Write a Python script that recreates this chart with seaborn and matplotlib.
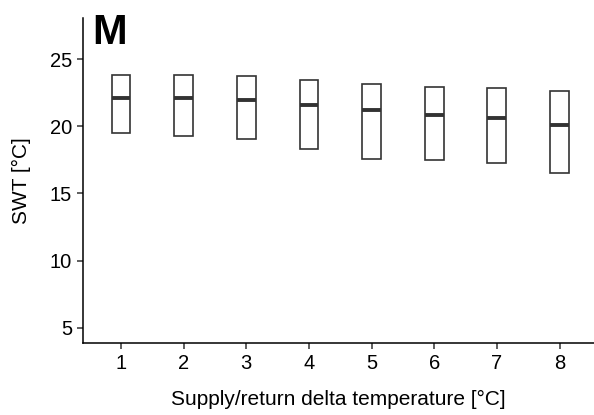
import pandas as pd
import numpy as np
import matplotlib
matplotlib.use('Agg')
import matplotlib.pyplot as plt
import seaborn as sns

# box summaries (lower edge, median, upper edge)
delta = ['1', '2', '3', '4', '5', '6', '7', '8']
lower = [19.48, 19.26, 19.03, 18.34, 17.55, 17.48, 17.30, 16.51]
median = [22.08, 22.12, 21.95, 21.60, 21.19, 20.86, 20.59, 20.07]
upper = [23.81, 23.81, 23.70, 23.42, 23.17, 22.94, 22.87, 22.65]

# five values per group so the quartiles land exactly on lower/upper
rows = []
for d, lo, me, hi in zip(delta, lower, median, upper):
    for v in [lo, lo, me, hi, hi]:
        rows.append({'delta': d, 'swt': v})
df = pd.DataFrame(rows)

sns.set_style('ticks')
plt.rcParams['font.family'] = ['Liberation Sans', 'DejaVu Sans']
plt.rcParams['text.color'] = 'black'
plt.rcParams['axes.labelcolor'] = 'black'

f, ax = plt.subplots(figsize=(5.94, 4.15), dpi=100)
f.subplots_adjust(left=0.1403, right=1.0, bottom=0.1742, top=0.9566)

sns.boxplot(data=df, x='delta', y='swt', order=delta, ax=ax, width=0.3,
            color='white', linecolor='#333333', linewidth=1.2,
            showcaps=False, showfliers=False, whis=0,
            boxprops={'facecolor': 'white', 'edgecolor': '#333333'},
            medianprops={'color': '#333333', 'linewidth': 2.8},
            whiskerprops={'linewidth': 0})

ax.set_xlim(-0.6, 7.55)
ax.set_ylim(3.9, 28.05)
ax.set_yticks([5, 10, 15, 20, 25])
sns.despine(ax=ax)
for s in ['left', 'bottom']:
    ax.spines[s].set_linewidth(1.1)
    ax.spines[s].set_color('black')
ax.tick_params(axis='both', length=4, width=1.1, color='#333333',
               labelsize=14.5, labelcolor='black', pad=4)

ax.set_xlabel('Supply/return delta temperature [°C]', fontsize=15, labelpad=12)
ax.set_ylabel('SWT [°C]', fontsize=15, labelpad=14)

f.text(0.155, 0.968, 'M', fontsize=30, fontweight='bold', va='top', ha='left',
       color='black')

plt.savefig('out.png', dpi=100)
